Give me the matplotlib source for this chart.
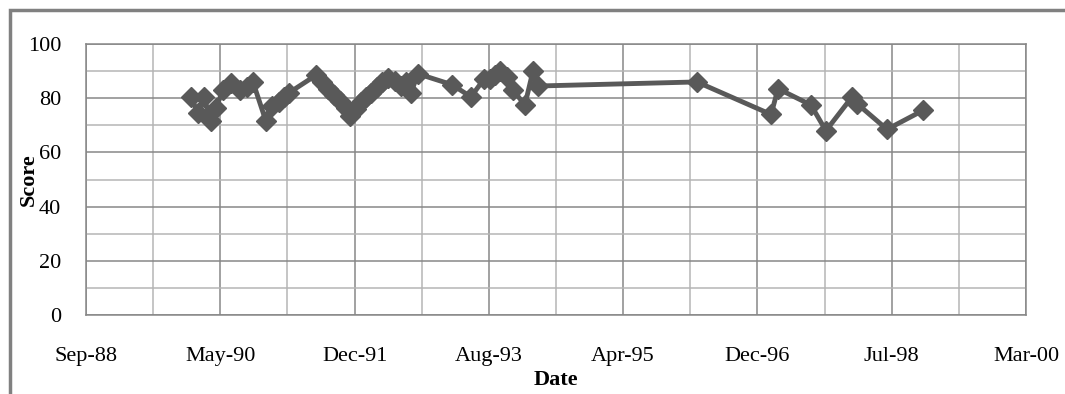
import datetime as dt

import matplotlib
matplotlib.use("Agg")
import matplotlib.dates as mdates
import matplotlib.patches as patches
from matplotlib import pyplot as plt
from matplotlib.ticker import FixedLocator, MultipleLocator

dates = [
    "1989-12-27", "1990-01-27", "1990-02-23", "1990-03-26", "1990-04-18",
    "1990-05-19", "1990-06-24", "1990-08-03", "1990-09-03", "1990-09-30",
    "1990-11-27", "1990-12-24", "1991-01-24", "1991-02-16", "1991-03-10",
    "1991-07-09", "1991-08-04", "1991-08-31", "1991-09-27", "1991-10-24",
    "1991-11-20", "1991-12-08", "1992-01-03", "1992-01-26", "1992-02-17",
    "1992-03-10", "1992-04-06", "1992-04-29", "1992-05-25", "1992-06-26",
    "1992-07-22", "1992-08-14", "1992-09-05", "1992-10-06", "1993-03-07",
    "1993-05-31", "1993-07-28", "1993-08-24", "1993-09-15", "1993-10-08",
    "1993-11-08", "1993-12-05", "1994-01-27", "1994-03-04", "1994-03-27",
    "1996-03-06", "1997-01-31", "1997-03-03", "1997-07-28", "1997-10-03",
    "1998-01-28", "1998-02-19", "1998-07-03", "1998-12-11",
]
scores = [
    80.5, 74.5, 80.5, 71.5, 76.5,
    83, 85.5, 83, 84, 86,
    71.5, 77, 78.5, 80.5, 82,
    88.5, 86, 83.5, 81, 79,
    76.5, 73.5, 76, 78.5, 80.5,
    82, 84, 86, 87.5, 86.5,
    84.5, 86, 82, 89, 85,
    80.5, 87, 87, 88.5, 90,
    88, 83, 77.5, 90, 84.5,
    86, 74, 83.5, 77.5, 68,
    80.5, 78, 68.5, 75.5,
]

# Excel style date axis: start Sep-88, major unit 600 days
axis_start = dt.date(1988, 9, 14)
major_step = 600
n_major = 7

x = [dt.datetime.strptime(d, "%Y-%m-%d") for d in dates]

plt.rcParams['font.family'] = ['Liberation Serif', 'DejaVu Serif']

fig = plt.figure(figsize=(10.65, 3.94), dpi=100)
ax = fig.add_axes([86 / 1065, 1 - 315 / 394, 940 / 1065, 271 / 394])

ax.plot(x, scores, color='#595959', linewidth=3.5, marker='D',
        markersize=10, markerfacecolor='#595959', markeredgecolor='#595959',
        zorder=3)

x0 = mdates.date2num(axis_start)
major = [x0 + i * major_step for i in range(n_major + 1)]
minor = [x0 + i * major_step + major_step / 2 for i in range(n_major)]
ax.set_xlim(major[0], major[-1])
ax.xaxis.set_major_locator(FixedLocator(major))
ax.xaxis.set_minor_locator(FixedLocator(minor))
ax.xaxis.set_major_formatter(mdates.DateFormatter('%b-%y'))

ax.set_ylim(0, 100)
ax.yaxis.set_major_locator(MultipleLocator(20))
ax.yaxis.set_minor_locator(MultipleLocator(10))

ax.grid(which='major', color='#878787', linewidth=1.1)
ax.grid(which='minor', color='#b5b5b5', linewidth=1.1)
ax.set_axisbelow(True)

for s in ax.spines.values():
    s.set_color('#878787')
    s.set_linewidth(1.1)

ax.tick_params(which='both', length=0)
ax.tick_params(axis='x', labelsize=16, pad=23)
ax.tick_params(axis='y', labelsize=16, pad=18)

ax.set_xlabel('Date', fontsize=16, fontweight='bold', labelpad=3)
ax.set_ylabel('Score', fontsize=16, fontweight='bold', labelpad=-8)

# outer chart border
fig.patches.append(patches.Rectangle((10 / 1065, -0.1), 1.2, 1.1 - 10 / 394,
                                     transform=fig.transFigure, fill=False,
                                     edgecolor='#808080', linewidth=2.5))

fig.savefig('out.png', dpi=100)
